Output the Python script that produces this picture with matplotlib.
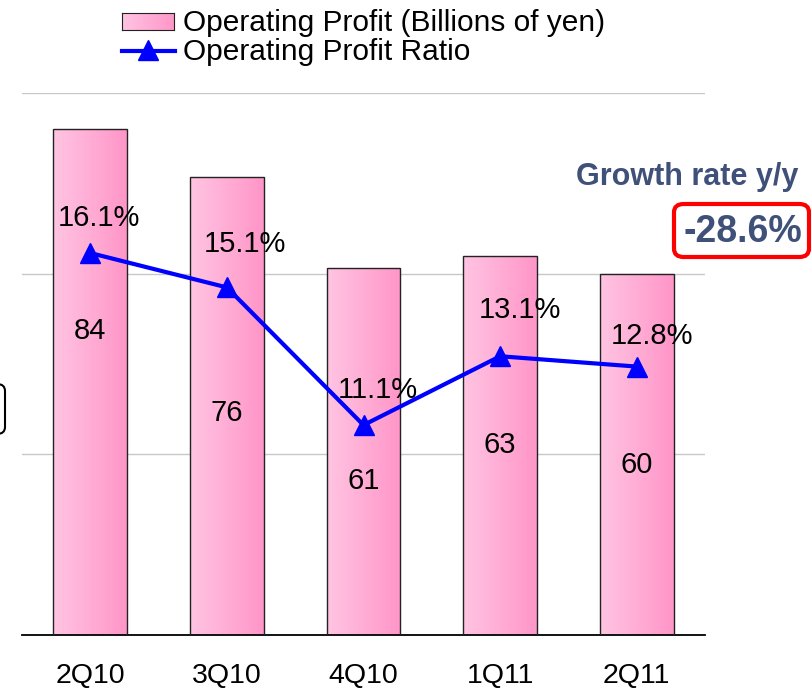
import matplotlib
matplotlib.use('Agg')
import matplotlib.pyplot as plt
from matplotlib.patches import FancyBboxPatch
from matplotlib.lines import Line2D
import numpy as np

plt.rcParams['font.family'] = ['Liberation Sans', 'DejaVu Sans']

# data
quarters = ['2Q10', '3Q10', '4Q10', '1Q11', '2Q11']
profit = [84, 76, 61, 63, 60]
ratio = [16.1, 15.1, 11.1, 13.1, 12.8]
# where the bar value labels sit (data units)
profit_label_y = [50.4, 36.9, 25.6, 31.6, 28.3]
# ratio label offsets in points (dx, dy)
ratio_label_off = [(6, 25), (13, 31), (10, 25), (14, 33), (11, 22)]
legend_labels = ['Operating Profit (Billions of yen)', 'Operating Profit Ratio']
growth_label = 'Growth rate y/y'
growth_value = '-28.6%'

W, H = 811, 693
fig = plt.figure(figsize=(W / 100, H / 100), dpi=100)
ax = fig.add_axes([22 / W, 1 - 635 / H, (705 - 22) / W, (635 - 93) / H])
ax2 = ax.twinx()
x = np.arange(len(quarters))

ax.set_xlim(-0.5, len(quarters) - 0.5)
ax.set_ylim(0, 90)
ax.set_yticks([30, 60, 90])
ax.yaxis.grid(True, color='#c8c8c8', lw=1)
ax.set_axisbelow(True)
ax.tick_params(axis='y', left=False, right=False, labelleft=False, length=0)
ax.tick_params(axis='x', bottom=False, labelsize=20.5, pad=17)
ax.set_xticks(x)
ax.set_xticklabels(quarters)
for s in ['top', 'right', 'left']:
    ax.spines[s].set_visible(False)
ax.spines['bottom'].set_color('black')
ax.spines['bottom'].set_linewidth(1.3)

# gradient bars
grad = np.linspace(0, 1, 64).reshape(1, -1)
cmap = matplotlib.colors.LinearSegmentedColormap.from_list('pk', ['#ffc4e2', '#ff96c8'])
bars = ax.bar(x, profit, width=0.54, color='none', edgecolor='#222222', lw=1, zorder=3)
for b in bars:
    x0, w, h = b.get_x(), b.get_width(), b.get_height()
    im = ax.imshow(grad, extent=[x0, x0 + w, 0, h], aspect='auto', cmap=cmap, zorder=2)
    im.set_clip_path(b)
for xi, v, ly in zip(x, profit, profit_label_y):
    ax.text(xi, ly, str(v), ha='center', va='center', fontsize=21, zorder=5)

# ratio line
ax2.set_ylim(5.0, 20.75)
ax2.axis('off')
ax2.plot(x, ratio, color='#0000ff', lw=3, marker='^', markersize=15, zorder=4)
for xi, r, off in zip(x, ratio, ratio_label_off):
    ax2.annotate('%.1f%%' % r, (xi, r), xytext=off, textcoords='offset points',
                 ha='center', va='center', fontsize=21, zorder=6)

# legend drawn by hand
lax = fig.add_axes([122 / W, 1 - 30 / H, 52 / W, 17 / H])
lax.imshow(grad, extent=[0, 1, 0, 1], aspect='auto', cmap=cmap)
lax.set_xticks([])
lax.set_yticks([])
for s in lax.spines.values():
    s.set_color('#222222')
fig.lines.append(Line2D([122 / W, 175 / W], [1 - 51 / H, 1 - 51 / H], transform=fig.transFigure,
                        color='#0000ff', lw=3))
fig.lines.append(Line2D([148 / W], [1 - 50 / H], transform=fig.transFigure,
                        color='#0000ff', marker='^', markersize=15))
fig.text(183 / W, 1 - 31 / H, legend_labels[0], fontsize=21.5, va='baseline')
fig.text(183 / W, 1 - 60 / H, legend_labels[1], fontsize=21.5, va='baseline')

# growth annotation
fig.text(687 / W, 1 - 177 / H, growth_label, ha='center', va='center',
         fontsize=22, fontweight='bold', color='#3f5079')
fig.text(743 / W, 1 - 232 / H, growth_value, ha='center', va='center',
         fontsize=27, fontweight='bold', color='#3f5079')
fig.patches.append(FancyBboxPatch((674 / W, 1 - 257 / H), 135 / W, 53 / H,
                                  boxstyle='round,pad=0,rounding_size=0.012',
                                  transform=fig.transFigure, facecolor='none',
                                  edgecolor='#ff0000', lw=3))
# partially visible box at the left edge
fig.patches.append(FancyBboxPatch((-60 / W, 1 - 434 / H), 65 / W, 50 / H,
                                  boxstyle='round,pad=0,rounding_size=0.01',
                                  transform=fig.transFigure, facecolor='none',
                                  edgecolor='black', lw=1.5))

fig.savefig('out.png', dpi=100)
